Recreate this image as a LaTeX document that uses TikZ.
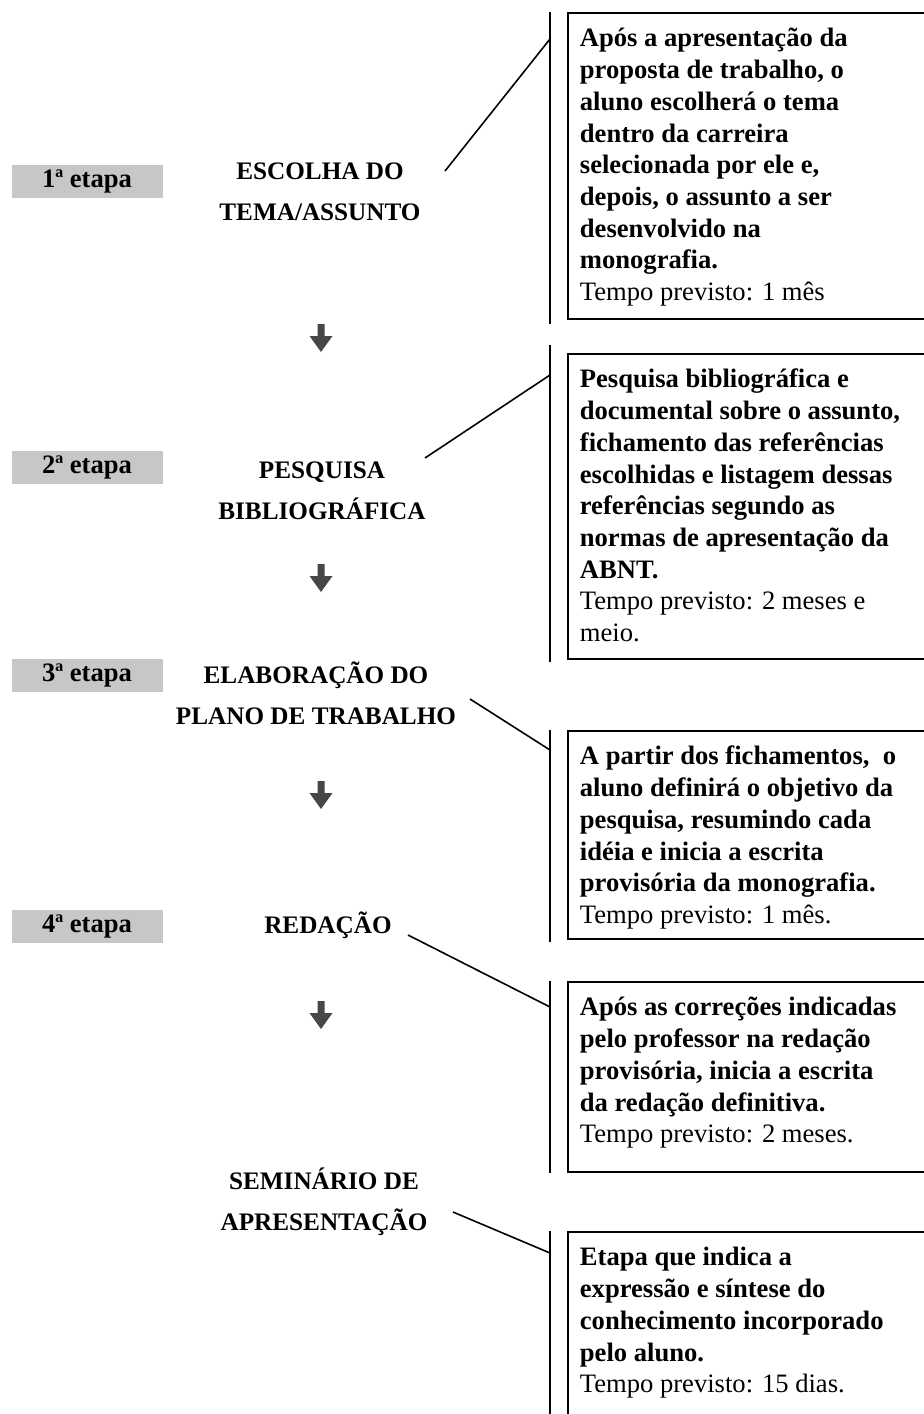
\documentclass[tikz,border=0pt]{standalone}
\usepackage{fontspec}
\setmainfont{Liberation Serif}

% text of a description box: fixed height, lines set at the top
\newcommand{\boxtext}[2]{\parbox[t][#1][t]{200pt}{\raggedright\rule{0pt}{17pt}#2}}

\begin{document}
\begin{tikzpicture}[x=0.5pt,y=-0.5pt,
    every node/.style={font=\fontsize{13.3pt}{15.85pt}\selectfont\bfseries},
    etapa/.style={fill=black!22,minimum width=75.5pt,minimum height=16.5pt,inner sep=0pt},
    title/.style={align=center,inner sep=0pt,font=\fontsize{12.6pt}{20.5pt}\selectfont\bfseries},
    frame/.style={draw,line width=0.9pt,anchor=north west,inner xsep=6pt,inner ysep=0pt},
    bracket/.style={line width=0.9pt},
    lead/.style={line width=0.8pt},
    downarr/.pic={
      \fill[black!72] (-3.5,-14) -- (3.5,-14) -- (3.5,-2) -- (11.5,-2)
        -- (0,14) -- (-11.5,-2) -- (-3.5,-2) -- cycle;
    }]
  \useasboundingbox (0,0) rectangle (924,1414);
  \clip (0,0) rectangle (924,1414);
  \fill[white] (0,0) rectangle (924,1414);

  % stages on the left
  \foreach \y/\n in {181/1,467/2,675/3,926/4}
    \node[etapa] (e\n) at (87,\y) {{\n}ª etapa};

  % titles
  \node[title] (t1) at (320,192) {ESCOLHA DO\\TEMA/ASSUNTO};
  \node[title] (t2) at (322,491) {PESQUISA\\BIBLIOGRÁFICA};
  \node[title] (t3) at (316,693) {ELABORAÇÃO DO\\PLANO DE TRABALHO};
  \node[title] (t4) at (328,925) {REDAÇÃO};
  \node[title] (t5) at (324,1202) {SEMINÁRIO DE\\APRESENTAÇÃO};

  \foreach \y/\n in {338/1,578/2,795/3,1015/4}
    \pic (arr\n) at (321,\y) {downarr};

  % description boxes
  \node[frame] (f1) at (567,12) {\boxtext{153pt}{Após a apresentação da\\
    proposta de trabalho, o\\aluno escolherá o tema\\dentro da carreira\\
    selecionada por ele e,\\depois, o assunto a ser\\desenvolvido na\\
    monografia.\\{\mdseries Tempo previsto: 1 mês}}};
  \node[frame] (f2) at (567,353) {\boxtext{152.5pt}{Pesquisa bibliográfica e\\
    documental sobre o assunto,\\fichamento das referências\\
    escolhidas e listagem dessas\\referências segundo as\\
    normas de apresentação da\\ABNT.\\
    {\mdseries Tempo previsto: 2 meses e}\\{\mdseries meio.}}};
  \node[frame] (f3) at (567,730) {\boxtext{104pt}{A partir dos fichamentos,~ o\\
    aluno definirá o objetivo da\\pesquisa, resumindo cada\\
    idéia e inicia a escrita\\provisória da monografia.\\
    {\mdseries Tempo previsto: 1 mês.}}};
  \node[frame] (f4) at (567,981) {\boxtext{95pt}{Após as correções indicadas\\
    pelo professor na redação\\provisória, inicia a escrita\\
    da redação definitiva.\\{\mdseries Tempo previsto: 2 meses.}}};
  \node[frame] (f5) at (567,1231) {\boxtext{110pt}{Etapa que indica a\\
    expressão e síntese do\\conhecimento incorporado\\pelo aluno.\\
    {\mdseries Tempo previsto: 15 dias.}}};

  % brackets left of the boxes
  \draw[bracket] ([xshift=-8.5pt]f1.north west) -- ([xshift=-8.5pt,yshift=-2pt]f1.south west);
  \draw[bracket] ([xshift=-8.5pt,yshift=4pt]f2.north west) -- ([xshift=-8.5pt,yshift=-1pt]f2.south west);
  \draw[bracket] ([xshift=-8.5pt]f3.north west) -- ([xshift=-8.5pt,yshift=-1pt]f3.south west);
  \draw[bracket] ([xshift=-8.5pt]f4.north west) -- ([xshift=-8.5pt]f4.south west);
  \draw[bracket] ([xshift=-8.5pt]f5.north west) -- ([xshift=-8.5pt]f5.south west);

  % lines from the titles to the brackets
  \coordinate (s1) at (445,171);  \coordinate (b1) at (550,39);
  \coordinate (s2) at (425,458);  \coordinate (b2) at (550,375);
  \coordinate (s3) at (470,699);  \coordinate (b3) at (550,750);
  \coordinate (s4) at (408,935);  \coordinate (b4) at (550,1007);
  \coordinate (s5) at (453,1212); \coordinate (b5) at (550,1253);
  \foreach \n in {1,...,5}
    \draw[lead] (s\n) -- (b\n);
\end{tikzpicture}
\end{document}
